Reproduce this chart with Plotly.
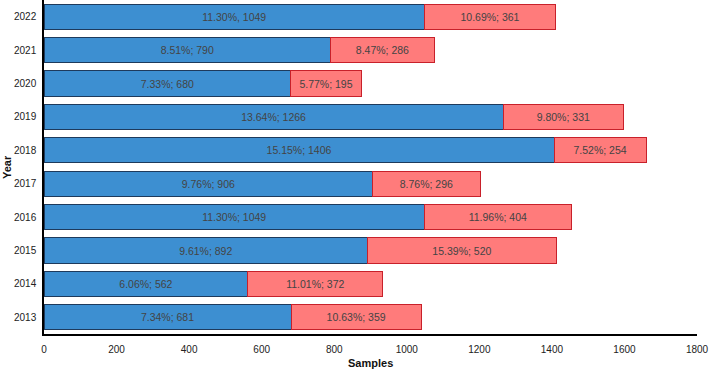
import plotly.graph_objects as go

years = ["2013", "2014", "2015", "2016", "2017", "2018", "2019", "2020", "2021", "2022"]
blue_vals = [681, 562, 892, 1049, 906, 1406, 1266, 680, 790, 1049]
blue_pct = ["7.34%", "6.06%", "9.61%", "11.30%", "9.76%", "15.15%", "13.64%", "7.33%", "8.51%", "11.30%"]
red_vals = [359, 372, 520, 404, 296, 254, 331, 195, 286, 361]
red_pct = ["10.63%", "11.01%", "15.39%", "11.96%", "8.76%", "7.52%", "9.80%", "5.77%", "8.47%", "10.69%"]
blue_sep = ["; "] * 9 + [", "]

blue_text = [f"{p}{s}{v}" for p, s, v in zip(blue_pct, blue_sep, blue_vals)]
red_text = [f"{p}; {v}" for p, v in zip(red_pct, red_vals)]

fig = go.Figure()
fig.add_trace(go.Bar(
    y=years, x=blue_vals, orientation="h", text=blue_text,
    textposition="inside", insidetextanchor="middle",
    textfont=dict(color="#444444", size=10.5, family="Liberation Sans"),
    marker=dict(color="#3d8fd1", line=dict(color="#1e3a5c", width=1)),
    width=0.75, hoverinfo="skip"))
fig.add_trace(go.Bar(
    y=years, x=red_vals, orientation="h", text=red_text,
    textposition="inside", insidetextanchor="middle",
    textfont=dict(color="#444444", size=10.5, family="Liberation Sans"),
    marker=dict(color="#ff7b7b", line=dict(color="#c8202a", width=1)),
    width=0.75, hoverinfo="skip"))

fig.update_layout(
    barmode="stack", width=709, height=370,
    margin=dict(l=44, r=12, t=0, b=36),
    plot_bgcolor="white", paper_bgcolor="white", showlegend=False,
    uniformtext=dict(minsize=8, mode="show"),
    font=dict(family="Liberation Sans", color="#222222", size=10),
)
fig.update_xaxes(range=[0, 1800], dtick=200, showgrid=False, zeroline=False,
                 showline=True, linecolor="black", linewidth=1.5, ticks="",
                 ticklabelstandoff=5, automargin=False, ticklabeloverflow="allow",
                 tickfont=dict(size=10))
fig.update_yaxes(type="category", range=[-0.5, 9.5], showgrid=False, showline=True,
                 linecolor="black", linewidth=1.5, ticks="", ticklabelstandoff=4,
                 automargin=False, tickfont=dict(size=10))

fig.add_annotation(text="<b>Year</b>", xref="paper", yref="paper", x=0, y=0.5,
                   xshift=-37, xanchor="center", yanchor="middle", textangle=-90,
                   showarrow=False, font=dict(size=11, color="#111111"))
fig.add_annotation(text="<b>Samples</b>", xref="paper", yref="paper", x=0.5, y=0,
                   yshift=-29, xanchor="center", yanchor="middle",
                   showarrow=False, font=dict(size=11, color="#111111"))

fig.write_html("out.html")
